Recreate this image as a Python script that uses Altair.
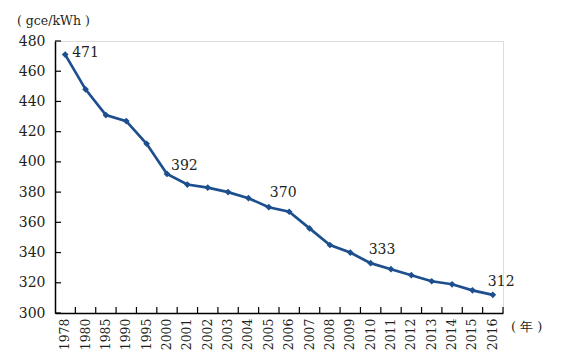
import altair as alt
import pandas as pd

years = ["1978", "1980", "1985", "1990", "1995", "2000", "2001", "2002", "2003",
         "2004", "2005", "2006", "2007", "2008", "2009", "2010", "2011", "2012",
         "2013", "2014", "2015", "2016"]
values = [471, 448, 431, 427, 412, 392, 385, 383, 380, 376, 370, 367, 356,
          345, 340, 333, 329, 325, 321, 319, 315, 312]
y_ticks = [300, 320, 340, 360, 380, 400, 420, 440, 460, 480]
labeled = ["1978", "2000", "2005", "2010", "2016"]

W, H = 448, 272
COLOR = "#1d4f8f"
FONT = "DejaVu Serif"
TXT = "#231f20"

df = pd.DataFrame({"year": years, "value": values})
ticks_df = pd.DataFrame({"value": y_ticks})

x_axis = alt.Axis(title=None, ticks=False, labelAngle=270, labelFontSize=12.5,
                  labelFont=FONT, labelColor=TXT, labelPadding=5, labelOverlap=False,
                  domainColor="#000000", domainWidth=1.5)
y_axis = alt.Axis(title=None, ticks=False, values=y_ticks,
                  labelFontSize=14, labelFont=FONT, labelColor=TXT, labelPadding=10,
                  grid=False, labelOverlap=False, labelFlush=False,
                  domainColor="#000000", domainWidth=1.5)
xscale = alt.Scale(paddingInner=0, paddingOuter=0)
yscale = alt.Scale(domain=[300, 480], nice=False, zero=False)

def X(**kw):
    return alt.X("year:O", sort=None, scale=xscale, axis=x_axis, **kw)

def Y():
    return alt.Y("value:Q", scale=yscale, axis=y_axis)

base = alt.Chart(df)
line = base.mark_line(color=COLOR, strokeWidth=2.7).encode(x=X(), y=Y())
pts = base.mark_point(shape="diamond", filled=True, color=COLOR, size=45, opacity=1).encode(
    x=X(), y=Y())

xtick = base.mark_rule(color="#000000", strokeWidth=1.2).encode(
    x=X(bandPosition=1), y=alt.value(H), y2=alt.value(H - 6))
ytick = alt.Chart(ticks_df).mark_rule(color="#000000", strokeWidth=1.2).encode(
    y=Y(), x=alt.value(0), x2=alt.value(6))

offsets = {"1978": (7, -2, "left"), "2000": (4, -8, "left"), "2005": (1, -14, "left"),
           "2010": (-2, -13, "left"), "2016": (-5, -13, "left")}
labels = []
for yr in labeled:
    dx, dy, al = offsets[yr]
    labels.append(
        base.transform_filter(alt.datum.year == yr).mark_text(
            font=FONT, fontSize=14, color=TXT, align=al, baseline="middle", dx=dx, dy=dy
        ).encode(x=X(), y=Y(), text="value:Q")
    )

unit = alt.Chart(pd.DataFrame({"t": ["( gce/kWh )"]})).mark_text(
    font=FONT, fontSize=12.5, color=TXT, align="left", baseline="middle"
).encode(x=alt.value(-38), y=alt.value(-20), text="t:N")
unit_x = alt.Chart(pd.DataFrame({"t": ["( 年 )"]})).mark_text(
    font=FONT, fontSize=13, color=TXT, align="left", baseline="middle"
).encode(x=alt.value(456), y=alt.value(286), text="t:N")

chart = alt.layer(line, pts, xtick, ytick, *labels, unit, unit_x).properties(
    width=W, height=H,
    autosize=alt.AutoSizeParams(type="none"),
    padding={"left": 47, "top": 33, "right": 50, "bottom": 38},
).configure_view(strokeWidth=0).configure(background="#ffffff")

chart.save("out.html", embed_options={"renderer": "svg", "actions": False})
